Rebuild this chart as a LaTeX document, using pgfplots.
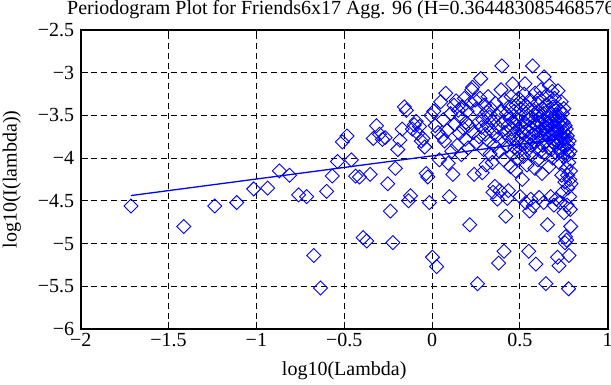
\documentclass[border=0pt]{standalone}
\usepackage{fontspec}
\setmainfont{Liberation Serif}
\usepackage{pgfplots}
\pgfplotsset{compat=1.18}
\definecolor{mblue}{RGB}{0,0,255}
\begin{document}
\begin{tikzpicture}
\begin{axis}[name=ax, scale only axis, width=527pt, height=299pt,
  xmin=-2, xmax=1, ymin=-6, ymax=-2.5,
  xtick={-2,-1.5,-1,-0.5,0,0.5,1},
  xticklabels={−2,−1.5,−1,−0.5,0,0.5,1},
  ytick={-6,-5.5,-5,-4.5,-4,-3.5,-3,-2.5},
  yticklabels={−6,−5.5,−5,−4.5,−4,−3.5,−3,−2.5},
  tick label style={font=\fontsize{20}{24}\selectfont},
  xticklabel style={yshift=-1pt},
  yticklabel style={xshift=-3pt},
  label style={font=\fontsize{20}{24}\selectfont},
  title style={font=\fontsize{20}{24}\selectfont, at={(axis description cs:0.5,1.0301)}, anchor=base},
  xlabel style={at={(axis description cs:0.5,-0.1555)}, anchor=base},
  ylabel style={at={(axis description cs:-0.1214,0.5)}, anchor=base},
  title={Periodogram Plot for Friends6x17 Agg. 96 (H=0.364483085468576)},
  xlabel={log10(Lambda)},
  ylabel={log10(I(lambda))},
  grid=major,
  major grid style={black, line width=0.8pt, dash pattern=on 6pt off 4pt},
  axis line style={black, line width=2pt},
  tick style={black, line width=1pt},
  major tick length=7pt, tick align=inside,
]
\addplot[only marks, mark=square, mark size=4.95pt, mblue,
  mark options={rotate=45, line width=0.9pt, fill=none}] table {
x y
-1.714 -4.56
-1.413 -4.80
-1.237 -4.56
-1.112 -4.52
-1.015 -4.36
-0.936 -4.35
-0.869 -4.15
-0.811 -4.20
-0.760 -4.43
-0.714 -4.45
-0.673 -5.14
-0.635 -5.52
-0.600 -4.39
-0.568 -4.21
-0.538 -4.04
-0.510 -3.81
-0.484 -3.74
-0.459 -4.02
-0.435 -4.21
-0.413 -4.22
-0.392 -4.93
-0.372 -4.97
-0.352 -4.19
-0.334 -3.77
-0.316 -3.62
-0.299 -3.72
-0.283 -3.78
-0.267 -3.76
-0.252 -4.30
-0.237 -4.62
-0.223 -4.99
-0.209 -4.12
-0.195 -3.90
-0.183 -3.79
-0.170 -3.66
-0.158 -3.40
-0.146 -3.44
-0.134 -4.50
-0.123 -4.44
-0.112 -3.66
-0.101 -3.61
-0.091 -3.57
-0.081 -3.71
-0.071 -3.63
-0.061 -3.80
-0.051 -3.77
-0.042 -3.87
-0.033 -4.18
-0.024 -4.22
-0.015 -4.52
-0.006 -3.50
0.002 -5.16
0.010 -3.45
0.018 -3.62
0.026 -5.27
0.034 -3.70
0.042 -4.02
0.049 -3.34
0.057 -3.75
0.064 -3.55
0.071 -3.80
0.078 -3.24
0.085 -3.68
0.092 -4.06
0.099 -4.45
0.106 -3.48
0.112 -3.92
0.119 -4.19
0.125 -3.38
0.131 -3.60
0.137 -3.33
0.143 -3.85
0.149 -3.44
0.155 -3.71
0.161 -3.52
0.167 -3.96
0.172 -3.40
0.178 -3.65
0.184 -3.30
0.189 -3.78
0.194 -3.58
0.200 -3.45
0.205 -3.88
0.210 -3.62
0.215 -4.78
0.220 -3.35
0.226 -3.20
0.230 -3.17
0.235 -3.70
0.240 -4.19
0.245 -3.32
0.250 -3.82
0.254 -3.42
0.259 -5.47
0.264 -3.58
0.268 -3.75
0.273 -3.30
0.277 -3.07
0.282 -3.64
0.286 -4.17
0.290 -3.55
0.294 -3.90
0.299 -3.38
0.303 -3.72
0.307 -4.08
0.311 -3.46
0.315 -3.62
0.319 -3.28
0.323 -3.80
0.327 -3.52
0.331 -3.95
0.335 -3.42
0.339 -3.68
0.343 -4.05
0.347 -4.40
0.350 -3.58
0.354 -3.85
0.358 -4.33
0.361 -3.36
0.365 -3.74
0.369 -3.50
0.372 -4.48
0.376 -3.64
0.379 -5.23
0.383 -3.92
0.386 -4.38
0.390 -3.45
0.393 -3.20
0.397 -2.92
0.400 -3.78
0.403 -3.58
0.407 -4.02
0.410 -5.09
0.413 -3.32
0.416 -3.70
0.420 -4.68
0.423 -3.48
0.426 -3.86
0.429 -4.47
0.432 -3.62
0.435 -4.38
0.438 -3.40
0.441 -3.76
0.444 -3.54
0.447 -4.10
0.450 -3.28
0.453 -3.66
0.456 -3.95
0.459 -3.13
0.462 -3.58
0.465 -3.72
0.468 -3.45
0.471 -3.88
0.473 -3.60
0.476 -4.15
0.479 -3.38
0.482 -3.80
0.485 -3.55
0.487 -4.00
0.490 -3.66
0.493 -3.30
0.496 -3.92
0.498 -3.50
0.501 -4.45
0.504 -3.75
0.506 -3.42
0.509 -3.84
0.511 -3.62
0.514 -4.25
0.516 -3.35
0.519 -3.70
0.521 -3.98
0.524 -3.25
0.527 -3.58
0.529 -3.13
0.532 -3.82
0.534 -4.52
0.536 -3.48
0.539 -3.68
0.541 -4.08
0.544 -3.40
0.546 -3.90
0.548 -3.55
0.551 -5.09
0.553 -3.76
0.556 -4.62
0.558 -3.32
0.560 -3.64
0.562 -4.48
0.565 -3.85
0.567 -3.52
0.569 -3.96
0.572 -2.92
0.574 -3.72
0.576 -4.56
0.578 -3.44
0.580 -3.80
0.583 -3.60
0.585 -4.12
0.587 -3.24
0.589 -3.70
0.591 -5.24
0.593 -3.50
0.596 -3.88
0.598 -3.36
0.600 -3.62
0.602 -4.02
0.604 -3.45
0.606 -3.78
0.608 -3.58
0.610 -4.46
0.612 -3.30
0.614 -3.68
0.616 -3.92
0.618 -3.52
0.620 -3.20
0.622 -3.75
0.624 -3.60
0.626 -4.18
0.628 -3.42
0.630 -3.85
0.632 -3.66
0.634 -3.48
0.636 -4.52
0.638 -3.05
0.640 -3.72
0.642 -3.56
0.644 -3.95
0.646 -3.38
0.648 -5.47
0.650 -3.64
0.651 -3.80
0.653 -3.26
0.655 -3.58
0.657 -4.78
0.659 -3.70
0.661 -3.44
0.663 -3.88
0.664 -3.62
0.666 -4.10
0.668 -3.15
0.670 -3.52
0.672 -3.76
0.673 -3.34
0.675 -4.45
0.677 -3.66
0.679 -3.90
0.680 -3.48
0.682 -3.72
0.684 -3.22
0.686 -3.60
0.687 -4.00
0.689 -3.40
0.691 -3.82
0.692 -3.56
0.694 -4.55
0.696 -3.68
0.697 -3.30
0.699 -3.78
0.701 -3.50
0.703 -3.62
0.704 -3.85
0.706 -3.40
0.707 -4.48
0.709 -3.70
0.711 -3.55
0.712 -3.95
0.714 -5.16
0.715 -3.66
0.717 -3.21
0.719 -3.78
0.720 -3.50
0.722 -4.05
0.723 -5.26
0.725 -3.60
0.727 -3.88
0.728 -3.44
0.730 -4.52
0.731 -3.72
0.733 -3.56
0.734 -3.92
0.736 -3.34
0.737 -3.80
0.739 -4.20
0.740 -3.64
0.742 -3.48
0.744 -4.40
0.745 -3.76
0.747 -3.58
0.748 -3.98
0.750 -3.42
0.751 -4.64
0.753 -3.70
0.754 -3.86
0.756 -4.28
0.757 -4.99
0.758 -3.62
0.760 -4.92
0.761 -3.78
0.763 -4.12
0.764 -3.66
0.766 -4.96
0.767 -3.90
0.769 -4.55
0.770 -3.74
0.771 -4.20
0.773 -3.84
0.774 -4.35
0.776 -3.96
0.777 -5.53
0.778 -4.05
0.780 -5.14
0.781 -3.80
0.783 -4.45
0.784 -4.25
0.785 -3.92
0.787 -4.60
0.788 -4.15
0.789 -4.80
0.791 -4.30
};
\addplot[mblue, line width=1.3pt] coordinates {(-1.714,-4.438) (0.791,-3.759)};
\end{axis}
\pgfresetboundingbox
\path[use as bounding box] (ax.south west) ++(-80.7pt,-56pt) rectangle ++(611pt,385pt);
\end{tikzpicture}
\end{document}
